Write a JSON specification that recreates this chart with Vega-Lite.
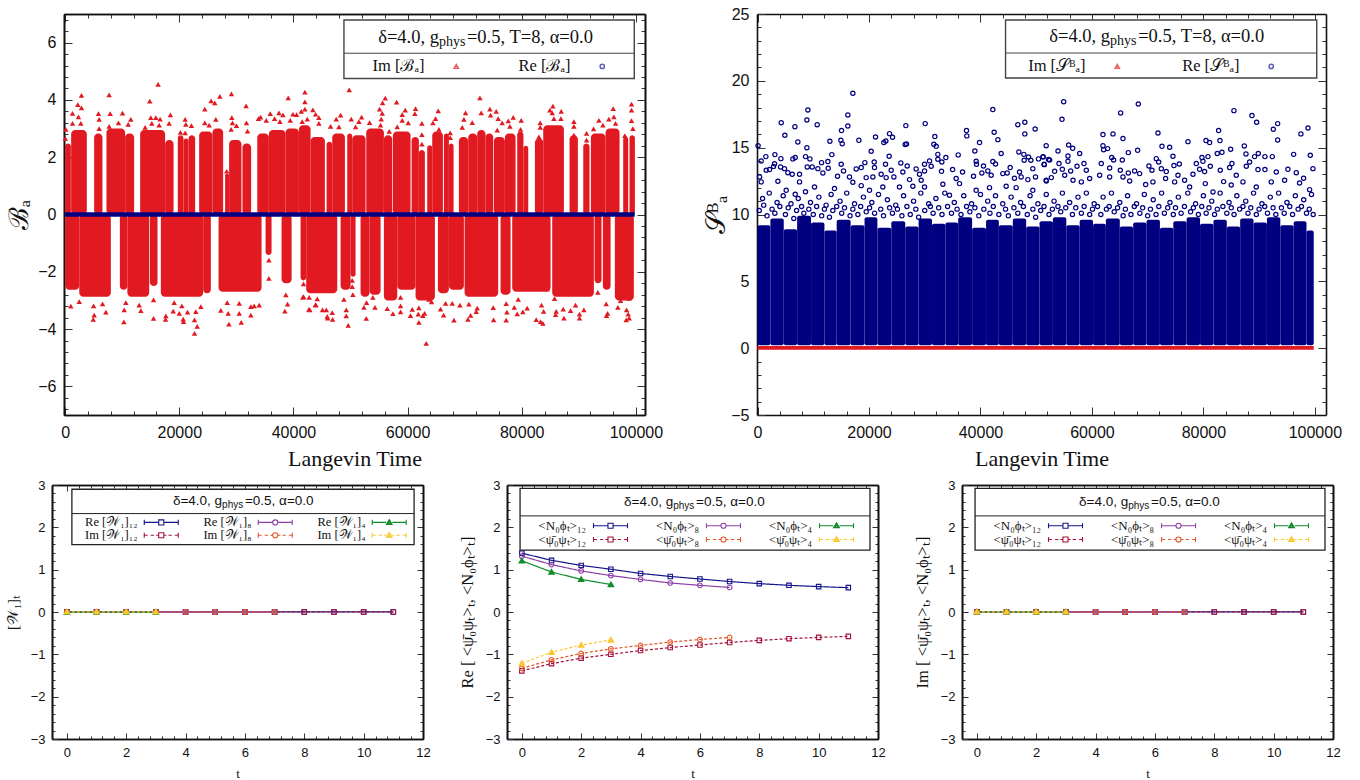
{"$schema":"https://vega.github.io/schema/vega-lite/v6.json","background":"white","padding":{"left":5,"top":6,"right":0,"bottom":0},
"config":{"view":{"stroke":null},"axis":{"grid":false,"labelFlush":false,"domainColor":"#111","domainWidth":1.6,"tickColor":"#333","tickWidth":1,"labelFont":"Liberation Sans","labelColor":"#111","titleFont":"Liberation Serif","titleColor":"#111","titleFontWeight":"normal"},"legend":{"labelFont":"Liberation Serif","labelColor":"#111"},"text":{"font":"Liberation Serif","color":"#111"}},
"datasets":{
"imUp":[{"t":0,"t2":1000,"hi":2.48},{"t":1050,"t2":3800,"hi":2.95},{"t":5080,"t2":6540,"hi":2.83},{"t":7240,"t2":10510,"hi":3.0},{"t":10510,"t2":12090,"hi":2.83},{"t":13140,"t2":17520,"hi":2.95},{"t":17520,"t2":19000,"hi":2.6},{"t":19740,"t2":20730,"hi":2.77},{"t":20730,"t2":21610,"hi":2.65},{"t":21610,"t2":22780,"hi":2.77},{"t":23480,"t2":25810,"hi":2.9},{"t":25810,"t2":27680,"hi":3.0},{"t":28030,"t2":28730,"hi":1.43},{"t":28730,"t2":30890,"hi":2.6},{"t":31070,"t2":32590,"hi":2.48},{"t":33660,"t2":35700,"hi":2.83},{"t":35700,"t2":38620,"hi":2.95},{"t":38620,"t2":40960,"hi":3.0},{"t":40960,"t2":43000,"hi":3.12},{"t":43000,"t2":45510,"hi":2.71},{"t":45810,"t2":46800,"hi":2.54},{"t":46800,"t2":49020,"hi":2.83},{"t":49430,"t2":50300,"hi":2.83},{"t":50300,"t2":52640,"hi":2.77},{"t":52760,"t2":55850,"hi":3.0},{"t":55850,"t2":57310,"hi":2.77},{"t":57430,"t2":60520,"hi":2.9},{"t":60700,"t2":61980,"hi":2.71},{"t":61980,"t2":63030,"hi":2.25},{"t":63440,"t2":64320,"hi":2.42},{"t":64320,"t2":66190,"hi":2.9},{"t":66360,"t2":67240,"hi":2.83},{"t":67240,"t2":68060,"hi":2.48},{"t":68990,"t2":70630,"hi":2.71},{"t":70630,"t2":72200,"hi":2.83},{"t":72200,"t2":73660,"hi":2.95},{"t":73660,"t2":75000,"hi":2.83},{"t":75120,"t2":77050,"hi":2.71},{"t":77050,"t2":78920,"hi":2.83},{"t":79210,"t2":80300,"hi":2.9},{"t":80300,"t2":81140,"hi":2.4},{"t":82310,"t2":83770,"hi":2.65},{"t":83770,"t2":87390,"hi":3.12},{"t":88380,"t2":89840,"hi":2.77},{"t":90780,"t2":91880,"hi":2.48},{"t":92120,"t2":94690,"hi":2.83},{"t":94690,"t2":97140,"hi":3.0},{"t":97780,"t2":98660,"hi":2.71},{"t":98890,"t2":99830,"hi":2.77}],
"imDown":[{"t":0,"t2":2470,"lo":-2.63},{"t":2470,"t2":8010,"lo":-2.87},{"t":9590,"t2":10900,"lo":-2.63},{"t":10900,"t2":14730,"lo":-2.87},{"t":14850,"t2":16190,"lo":-2.5},{"t":16770,"t2":24190,"lo":-2.87},{"t":24190,"t2":25530,"lo":-2.75},{"t":26880,"t2":34420,"lo":-2.7},{"t":35120,"t2":36170,"lo":-1.41},{"t":37920,"t2":39680,"lo":-2.4},{"t":41250,"t2":42240,"lo":-2.3},{"t":42240,"t2":47680,"lo":-2.75},{"t":48260,"t2":50010,"lo":-2.63},{"t":50010,"t2":50890,"lo":-2.17},{"t":51760,"t2":53340,"lo":-2.87},{"t":53340,"t2":55270,"lo":-2.8},{"t":55850,"t2":58190,"lo":-3.0},{"t":58190,"t2":61400,"lo":-2.63},{"t":61400,"t2":64790,"lo":-3.0},{"t":65310,"t2":67240,"lo":-2.75},{"t":67240,"t2":69870,"lo":-2.63},{"t":69985,"t2":75880,"lo":-2.87},{"t":76290,"t2":78040,"lo":-2.8},{"t":78330,"t2":85050,"lo":-2.7},{"t":85340,"t2":92640,"lo":-2.87},{"t":92760,"t2":93990,"lo":-2.4},{"t":94220,"t2":95570,"lo":-2.63},{"t":96320,"t2":99650,"lo":-3.0}],
"imPts":[{"t":16290,"v":4.54},{"t":2860,"v":4.16},{"t":7710,"v":4.18},{"t":14830,"v":3.96},{"t":2220,"v":3.84},{"t":2860,"v":3.72},{"t":1290,"v":3.53},{"t":2340,"v":3.41},{"t":5840,"v":3.52},{"t":5960,"v":3.32},{"t":7890,"v":3.52},{"t":10050,"v":3.54},{"t":11500,"v":3.32},{"t":1290,"v":3.18},{"t":2750,"v":3.18},{"t":120,"v":2.97},{"t":50,"v":2.65},{"t":5960,"v":3.0},{"t":9345,"v":3.2},{"t":7710,"v":3.08},{"t":11040,"v":3.15},{"t":15010,"v":3.38},{"t":15890,"v":3.38},{"t":16640,"v":3.33},{"t":18450,"v":3.48},{"t":15180,"v":3.18},{"t":16470,"v":3.12},{"t":18220,"v":3.18},{"t":14020,"v":3.04},{"t":21030,"v":3.32},{"t":21140,"v":3.15},{"t":22130,"v":3.1},{"t":21030,"v":2.85},{"t":20200,"v":2.87},{"t":24470,"v":3.68},{"t":25580,"v":3.97},{"t":26220,"v":3.9},{"t":27100,"v":4.12},{"t":29140,"v":4.21},{"t":31710,"v":3.79},{"t":24470,"v":3.2},{"t":25230,"v":3.12},{"t":26400,"v":3.32},{"t":29200,"v":3.38},{"t":29320,"v":3.2},{"t":30020,"v":3.1},{"t":29080,"v":2.97},{"t":31770,"v":3.2},{"t":31950,"v":2.91},{"t":28320,"v":1.51},{"t":33870,"v":3.35},{"t":39090,"v":4.07},{"t":42010,"v":4.27},{"t":42010,"v":3.93},{"t":49780,"v":4.35},{"t":56090,"v":4.06},{"t":55620,"v":3.9},{"t":58070,"v":3.92},{"t":34240,"v":3.4},{"t":35940,"v":3.52},{"t":37460,"v":3.55},{"t":38160,"v":3.48},{"t":39910,"v":3.5},{"t":40550,"v":3.49},{"t":41370,"v":3.6},{"t":42010,"v":3.68},{"t":43410,"v":3.65},{"t":43880,"v":3.5},{"t":44460,"v":3.38},{"t":36700,"v":3.35},{"t":35240,"v":3.29},{"t":37630,"v":3.24},{"t":39440,"v":3.29},{"t":41540,"v":3.24},{"t":42420,"v":3.33},{"t":44460,"v":3.18},{"t":46510,"v":3.08},{"t":47500,"v":3.33},{"t":48260,"v":3.47},{"t":47970,"v":3.06},{"t":50130,"v":3.33},{"t":51940,"v":3.4},{"t":51470,"v":3.24},{"t":50890,"v":3.06},{"t":55090,"v":3.68},{"t":55560,"v":3.53},{"t":55380,"v":3.33},{"t":53340,"v":3.21},{"t":55270,"v":3.12},{"t":56790,"v":2.9},{"t":58190,"v":3.06},{"t":59060,"v":3.49},{"t":59590,"v":3.64},{"t":59060,"v":3.29},{"t":61400,"v":3.7},{"t":61280,"v":3.52},{"t":60110,"v":3.2},{"t":62510,"v":3.18},{"t":62510,"v":2.79},{"t":62510,"v":2.46},{"t":65370,"v":3.62},{"t":64900,"v":3.35},{"t":64440,"v":3.2},{"t":65490,"v":2.97},{"t":72670,"v":4.07},{"t":70160,"v":3.55},{"t":72900,"v":3.55},{"t":74420,"v":3.68},{"t":75530,"v":3.6},{"t":74540,"v":3.47},{"t":78510,"v":3.39},{"t":79910,"v":3.29},{"t":75880,"v":3.35},{"t":77640,"v":3.27},{"t":69870,"v":3.32},{"t":71330,"v":3.21},{"t":69580,"v":3.04},{"t":76580,"v":3.2},{"t":77930,"v":3.08},{"t":75710,"v":2.95},{"t":79800,"v":2.97},{"t":85460,"v":3.78},{"t":84930,"v":3.64},{"t":86920,"v":3.6},{"t":85340,"v":3.55},{"t":85640,"v":3.35},{"t":86860,"v":3.35},{"t":83240,"v":3.2},{"t":83240,"v":3.04},{"t":89140,"v":3.24},{"t":89140,"v":3.08},{"t":83010,"v":2.71},{"t":89140,"v":2.77},{"t":91360,"v":2.83},{"t":91360,"v":2.6},{"t":92590,"v":2.99},{"t":93520,"v":3.29},{"t":95270,"v":3.33},{"t":94220,"v":3.12},{"t":96030,"v":3.7},{"t":96150,"v":3.41},{"t":96440,"v":3.18},{"t":99240,"v":3.85},{"t":99240,"v":3.64},{"t":99240,"v":3.28},{"t":99480,"v":3.0},{"t":98070,"v":2.75},{"t":67470,"v":2.85},{"t":67470,"v":2.68},{"t":1000,"v":-3.2},{"t":2470,"v":-3.04},{"t":4920,"v":-3.66},{"t":5090,"v":-3.51},{"t":7140,"v":-3.41},{"t":6550,"v":-3.12},{"t":4980,"v":-3.19},{"t":10290,"v":-3.75},{"t":10350,"v":-3.33},{"t":10640,"v":-3.08},{"t":13270,"v":-3.36},{"t":12980,"v":-3.16},{"t":15490,"v":-3.63},{"t":15490,"v":-2.98},{"t":17590,"v":-3.66},{"t":17650,"v":-3.54},{"t":19110,"v":-3.08},{"t":18930,"v":-3.37},{"t":19990,"v":-3.45},{"t":20740,"v":-3.74},{"t":20690,"v":-3.65},{"t":20450,"v":-3.19},{"t":22670,"v":-4.15},{"t":23140,"v":-3.91},{"t":22670,"v":-3.68},{"t":21440,"v":-3.41},{"t":22900,"v":-3.39},{"t":23780,"v":-3.22},{"t":28690,"v":-3.83},{"t":30850,"v":-3.77},{"t":27280,"v":-3.35},{"t":28400,"v":-3.08},{"t":28570,"v":-3.45},{"t":30500,"v":-3.45},{"t":30500,"v":-3.1},{"t":32540,"v":-3.51},{"t":32540,"v":-3.22},{"t":33120,"v":-3.19},{"t":34000,"v":-3.16},{"t":35700,"v":-1.59},{"t":35700,"v":-2.23},{"t":38500,"v":-3.37},{"t":38970,"v":-3.13},{"t":38670,"v":-2.81},{"t":41770,"v":-2.87},{"t":41770,"v":-2.42},{"t":42880,"v":-3.33},{"t":42760,"v":-2.89},{"t":43930,"v":-3.16},{"t":46000,"v":-3.62},{"t":45100,"v":-3.33},{"t":45920,"v":-3.56},{"t":46860,"v":-3.66},{"t":46800,"v":-3.43},{"t":49250,"v":-3.54},{"t":49600,"v":-3.87},{"t":49250,"v":-3.33},{"t":48840,"v":-2.96},{"t":52760,"v":-3.63},{"t":52350,"v":-3.24},{"t":54280,"v":-3.24},{"t":52810,"v":-3.08},{"t":53920,"v":-2.89},{"t":56440,"v":-3.29},{"t":57430,"v":-3.46},{"t":58770,"v":-3.4},{"t":58770,"v":-3.19},{"t":58770,"v":-2.89},{"t":60520,"v":-3.53},{"t":60820,"v":-3.31},{"t":61980,"v":-3.77},{"t":61870,"v":-3.48},{"t":62680,"v":-3.53},{"t":61980,"v":-3.26},{"t":63270,"v":-4.5},{"t":62980,"v":-3.45},{"t":63740,"v":-2.96},{"t":64200,"v":-3.05},{"t":65780,"v":-3.3},{"t":66310,"v":-3.51},{"t":66660,"v":-3.1},{"t":50300,"v":-2.3},{"t":50300,"v":-2.52},{"t":50420,"v":-2.8},{"t":41660,"v":-2.89},{"t":42710,"v":-3.31},{"t":43880,"v":-3.15},{"t":44170,"v":-2.95},{"t":45750,"v":-3.33},{"t":68120,"v":-3.69},{"t":67820,"v":-3.1},{"t":70570,"v":-3.66},{"t":71040,"v":-3.52},{"t":70740,"v":-3.13},{"t":69170,"v":-3.16},{"t":72200,"v":-3.27},{"t":72030,"v":-3.39},{"t":75010,"v":-3.25},{"t":75070,"v":-3.68},{"t":77280,"v":-3.69},{"t":77400,"v":-3.41},{"t":77280,"v":-3.11},{"t":78690,"v":-3.24},{"t":79210,"v":-3.47},{"t":79390,"v":-2.96},{"t":80200,"v":-3.4},{"t":80960,"v":-3.27},{"t":82540,"v":-3.67},{"t":83300,"v":-3.74},{"t":83710,"v":-3.8},{"t":83830,"v":-3.38},{"t":83470,"v":-3.16},{"t":84470,"v":-2.6},{"t":85750,"v":-2.94},{"t":86040,"v":-3.38},{"t":85930,"v":-3.5},{"t":87390,"v":-3.62},{"t":87270,"v":-3.3},{"t":88560,"v":-3.36},{"t":90130,"v":-3.62},{"t":90130,"v":-3.48},{"t":90890,"v":-3.33},{"t":89430,"v":-3.16},{"t":93340,"v":-2.72},{"t":94860,"v":-3.53},{"t":95040,"v":-3.45},{"t":94800,"v":-3.12},{"t":96850,"v":-3.24},{"t":98370,"v":-3.33},{"t":98310,"v":-3.68},{"t":98830,"v":-3.62},{"t":98660,"v":-3.48},{"t":97320,"v":-3.01},{"t":98780,"v":-2.93}],
"sBand":[{"t":0,"t2":2300,"hi":9.2},{"t":2300,"t2":4700,"hi":9.7},{"t":4700,"t2":7100,"hi":8.9},{"t":7100,"t2":9600,"hi":9.9},{"t":9600,"t2":12000,"hi":9.4},{"t":12000,"t2":14200,"hi":8.8},{"t":14200,"t2":16700,"hi":9.6},{"t":16700,"t2":19200,"hi":9.2},{"t":19200,"t2":21500,"hi":9.8},{"t":21500,"t2":24000,"hi":9.0},{"t":24000,"t2":26500,"hi":9.5},{"t":26500,"t2":28900,"hi":9.1},{"t":28900,"t2":31300,"hi":9.7},{"t":31300,"t2":33700,"hi":9.3},{"t":33700,"t2":36000,"hi":9.4},{"t":36000,"t2":38500,"hi":9.8},{"t":38500,"t2":41000,"hi":9.0},{"t":41000,"t2":43300,"hi":9.6},{"t":43300,"t2":45800,"hi":9.2},{"t":45800,"t2":48200,"hi":9.7},{"t":48200,"t2":50600,"hi":9.1},{"t":50600,"t2":53000,"hi":9.5},{"t":53000,"t2":55400,"hi":9.8},{"t":55400,"t2":57800,"hi":9.2},{"t":57800,"t2":60200,"hi":9.6},{"t":60200,"t2":62500,"hi":9.3},{"t":62500,"t2":65000,"hi":9.7},{"t":65000,"t2":67400,"hi":9.1},{"t":67400,"t2":69800,"hi":9.4},{"t":69800,"t2":72200,"hi":9.6},{"t":72200,"t2":74600,"hi":9.0},{"t":74600,"t2":77000,"hi":9.5},{"t":77000,"t2":79400,"hi":9.8},{"t":79400,"t2":81800,"hi":9.3},{"t":81800,"t2":84200,"hi":9.6},{"t":84200,"t2":86600,"hi":9.1},{"t":86600,"t2":89000,"hi":9.7},{"t":89000,"t2":91400,"hi":9.4},{"t":91400,"t2":93800,"hi":9.8},{"t":93800,"t2":96200,"hi":9.2},{"t":96200,"t2":98500,"hi":9.5},{"t":98500,"t2":99800,"hi":8.8}],
"sPts":[{"t":17100,"v":19.07},{"t":9030,"v":17.82},{"t":42220,"v":17.85},{"t":16200,"v":17.45},{"t":8850,"v":17.07},{"t":4245,"v":16.87},{"t":10700,"v":16.72},{"t":6700,"v":16.57},{"t":16200,"v":16.62},{"t":46700,"v":16.72},{"t":47960,"v":16.9},{"t":49810,"v":16.4},{"t":30080,"v":16.8},{"t":26610,"v":16.65},{"t":15070,"v":16.28},{"t":37490,"v":16.28},{"t":37550,"v":15.88},{"t":42460,"v":16.15},{"t":43120,"v":15.6},{"t":47960,"v":16.03},{"t":4900,"v":15.93},{"t":23680,"v":16.05},{"t":24220,"v":15.78},{"t":21170,"v":15.8},{"t":31810,"v":15.83},{"t":100,"v":15.15},{"t":7230,"v":15.43},{"t":12980,"v":15.48},{"t":14950,"v":15.55},{"t":15190,"v":15.3},{"t":18180,"v":15.55},{"t":22660,"v":15.38},{"t":23020,"v":15.5},{"t":26490,"v":15.23},{"t":26730,"v":15.28},{"t":31630,"v":15.25},{"t":32050,"v":15.1},{"t":39830,"v":15.38},{"t":51790,"v":15.15},{"t":8850,"v":15.0},{"t":20390,"v":14.73},{"t":13330,"v":14.48},{"t":3110,"v":14.48},{"t":1490,"v":14.33},{"t":660,"v":14.0},{"t":4190,"v":14.18},{"t":6340,"v":14.16},{"t":6760,"v":14.26},{"t":8610,"v":14.33},{"t":9390,"v":14.16},{"t":11480,"v":13.88},{"t":12620,"v":13.96},{"t":15010,"v":13.76},{"t":19250,"v":13.88},{"t":20930,"v":13.93},{"t":22960,"v":13.76},{"t":23620,"v":14.36},{"t":25710,"v":13.86},{"t":26850,"v":13.63},{"t":29960,"v":13.76},{"t":30860,"v":14.01},{"t":31150,"v":13.61},{"t":32350,"v":14.5},{"t":32350,"v":14.13},{"t":33070,"v":13.93},{"t":33790,"v":14.26},{"t":36000,"v":14.46},{"t":38990,"v":14.75},{"t":39230,"v":13.98},{"t":39290,"v":13.76},{"t":40540,"v":13.63},{"t":42220,"v":13.96},{"t":42700,"v":13.78},{"t":43710,"v":14.56},{"t":46880,"v":14.68},{"t":47780,"v":14.5},{"t":47840,"v":14.06},{"t":48620,"v":14.3},{"t":49040,"v":14.06},{"t":50410,"v":14.16},{"t":51250,"v":14.33},{"t":51420,"v":13.76},{"t":52200,"v":14.11},{"t":3050,"v":13.8},{"t":2870,"v":13.6},{"t":1550,"v":13.31},{"t":2150,"v":13.36},{"t":4130,"v":13.56},{"t":4840,"v":13.43},{"t":5440,"v":13.13},{"t":6220,"v":13.01},{"t":7530,"v":13.01},{"t":8910,"v":13.56},{"t":9810,"v":13.56},{"t":10820,"v":13.43},{"t":11720,"v":13.11},{"t":12680,"v":13.46},{"t":14350,"v":12.86},{"t":15430,"v":13.26},{"t":16500,"v":12.81},{"t":17700,"v":13.41},{"t":18600,"v":13.51},{"t":19490,"v":12.76},{"t":20690,"v":12.81},{"t":20990,"v":13.51},{"t":22180,"v":13.01},{"t":23080,"v":12.76},{"t":23980,"v":13.31},{"t":24460,"v":12.81},{"t":26070,"v":13.18},{"t":27270,"v":12.61},{"t":28460,"v":13.41},{"t":29060,"v":13.01},{"t":29960,"v":13.26},{"t":29360,"v":12.56},{"t":33010,"v":13.23},{"t":35000,"v":13.36},{"t":35640,"v":12.69},{"t":36780,"v":13.18},{"t":38750,"v":12.86},{"t":40250,"v":13.11},{"t":41320,"v":13.26},{"t":41920,"v":12.94},{"t":44010,"v":13.06},{"t":44790,"v":13.11},{"t":45330,"v":13.51},{"t":46100,"v":12.71},{"t":47000,"v":13.18},{"t":47300,"v":12.81},{"t":49390,"v":13.43},{"t":49870,"v":12.81},{"t":48500,"v":12.61},{"t":51790,"v":12.56},{"t":360,"v":12.81},{"t":660,"v":12.44},{"t":3650,"v":12.49},{"t":7530,"v":12.44},{"t":5140,"v":11.81},{"t":6760,"v":11.51},{"t":10220,"v":12.06},{"t":13810,"v":11.94},{"t":17100,"v":12.41},{"t":18600,"v":12.16},{"t":20090,"v":11.81},{"t":22480,"v":12.06},{"t":25470,"v":12.06},{"t":27870,"v":12.11},{"t":29960,"v":12.06},{"t":33250,"v":12.26},{"t":34440,"v":11.44},{"t":36240,"v":12.31},{"t":39230,"v":11.81},{"t":41620,"v":12.01},{"t":44610,"v":12.11},{"t":46400,"v":12.01},{"t":49390,"v":11.81},{"t":54930,"v":18.44},{"t":68320,"v":18.27},{"t":65150,"v":17.6},{"t":54630,"v":17.12},{"t":85480,"v":17.77},{"t":88710,"v":17.4},{"t":89550,"v":16.9},{"t":93320,"v":16.8},{"t":92540,"v":16.38},{"t":98760,"v":16.47},{"t":97500,"v":16.03},{"t":82730,"v":16.28},{"t":61980,"v":15.98},{"t":63780,"v":16.03},{"t":71850,"v":16.1},{"t":65570,"v":15.68},{"t":93320,"v":15.58},{"t":82970,"v":15.53},{"t":77230,"v":15.45},{"t":80460,"v":15.53},{"t":81120,"v":15.38},{"t":55820,"v":15.2},{"t":56540,"v":14.95},{"t":61980,"v":15.15},{"t":62100,"v":14.85},{"t":62820,"v":14.93},{"t":68200,"v":14.8},{"t":72570,"v":15.1},{"t":73940,"v":15.03},{"t":84890,"v":14.88},{"t":87340,"v":15.13},{"t":53910,"v":14.75},{"t":57800,"v":14.56},{"t":66530,"v":14.63},{"t":82490,"v":14.56},{"t":83330,"v":14.65},{"t":87640,"v":14.53},{"t":89850,"v":14.56},{"t":96190,"v":14.5},{"t":99180,"v":14.43},{"t":51220,"v":14.3},{"t":52410,"v":14.08},{"t":55700,"v":14.38},{"t":55700,"v":13.98},{"t":63540,"v":14.26},{"t":63890,"v":14.08},{"t":65450,"v":14.08},{"t":71550,"v":14.18},{"t":71970,"v":13.93},{"t":74540,"v":14.36},{"t":74720,"v":13.66},{"t":75680,"v":13.78},{"t":78730,"v":13.81},{"t":79740,"v":14.26},{"t":80820,"v":14.33},{"t":79920,"v":13.98},{"t":85120,"v":13.81},{"t":89190,"v":14.33},{"t":91040,"v":14.33},{"t":92360,"v":14.33},{"t":51460,"v":13.73},{"t":54090,"v":13.81},{"t":58570,"v":13.81},{"t":61680,"v":13.81},{"t":57320,"v":13.61},{"t":54690,"v":13.38},{"t":53310,"v":13.23},{"t":56180,"v":13.26},{"t":58990,"v":13.31},{"t":63180,"v":13.48},{"t":65090,"v":13.31},{"t":66530,"v":13.11},{"t":67660,"v":13.26},{"t":68560,"v":13.06},{"t":70230,"v":13.63},{"t":70770,"v":13.31},{"t":72450,"v":13.43},{"t":73340,"v":13.21},{"t":75440,"v":12.94},{"t":76630,"v":12.56},{"t":78130,"v":13.01},{"t":79320,"v":13.38},{"t":80220,"v":13.21},{"t":81240,"v":13.61},{"t":83030,"v":13.31},{"t":84710,"v":13.51},{"t":85900,"v":12.94},{"t":87700,"v":13.61},{"t":88290,"v":13.93},{"t":89790,"v":13.36},{"t":91040,"v":13.36},{"t":93080,"v":13.18},{"t":95170,"v":13.38},{"t":96670,"v":13.13},{"t":97980,"v":12.71},{"t":99660,"v":13.43},{"t":51820,"v":12.51},{"t":52710,"v":12.76},{"t":55110,"v":12.94},{"t":56600,"v":12.56},{"t":58100,"v":12.44},{"t":59590,"v":12.69},{"t":61380,"v":12.94},{"t":63180,"v":12.81},{"t":65570,"v":12.81},{"t":66770,"v":12.51},{"t":69640,"v":12.24},{"t":70950,"v":12.44},{"t":73220,"v":12.69},{"t":74840,"v":12.44},{"t":77530,"v":12.06},{"t":80340,"v":12.31},{"t":81720,"v":11.69},{"t":83630,"v":12.46},{"t":85000,"v":12.21},{"t":87100,"v":12.44},{"t":89490,"v":12.06},{"t":92180,"v":12.44},{"t":94570,"v":12.56},{"t":97260,"v":12.36},{"t":99060,"v":11.86},{"t":900,"v":11.2},{"t":2100,"v":11.6},{"t":3500,"v":10.9},{"t":4600,"v":11.4},{"t":6000,"v":10.8},{"t":7300,"v":11.2},{"t":8600,"v":11.7},{"t":9500,"v":10.9},{"t":11000,"v":11.3},{"t":12300,"v":10.7},{"t":13200,"v":11.5},{"t":14800,"v":11.0},{"t":16000,"v":11.6},{"t":17400,"v":10.8},{"t":19000,"v":11.3},{"t":20500,"v":10.9},{"t":21700,"v":11.5},{"t":23300,"v":11.1},{"t":24800,"v":10.7},{"t":26200,"v":11.4},{"t":28000,"v":11.0},{"t":29300,"v":11.6},{"t":30700,"v":10.8},{"t":32000,"v":11.2},{"t":33600,"v":11.6},{"t":35300,"v":10.9},{"t":37000,"v":11.4},{"t":38400,"v":10.8},{"t":40000,"v":11.5},{"t":41300,"v":11.0},{"t":42700,"v":11.4},{"t":44000,"v":10.8},{"t":45500,"v":11.3},{"t":47200,"v":10.9},{"t":48900,"v":11.4},{"t":50300,"v":10.8},{"t":51800,"v":11.5},{"t":53200,"v":11.0},{"t":54700,"v":11.6},{"t":56000,"v":10.9},{"t":57500,"v":11.3},{"t":59000,"v":11.6},{"t":60400,"v":10.8},{"t":62000,"v":11.3},{"t":63500,"v":11.6},{"t":65000,"v":10.9},{"t":66400,"v":11.4},{"t":68000,"v":10.8},{"t":69400,"v":11.5},{"t":71000,"v":11.1},{"t":72500,"v":11.6},{"t":74000,"v":10.9},{"t":75500,"v":11.3},{"t":77200,"v":11.6},{"t":78600,"v":10.8},{"t":80000,"v":11.4},{"t":81500,"v":11.0},{"t":83000,"v":11.6},{"t":84600,"v":10.9},{"t":86000,"v":11.4},{"t":87600,"v":11.0},{"t":89000,"v":11.6},{"t":90500,"v":10.8},{"t":92000,"v":11.3},{"t":93500,"v":11.6},{"t":95000,"v":10.9},{"t":96500,"v":11.4},{"t":98000,"v":11.1},{"t":99400,"v":11.5},{"t":300,"v":10.3},{"t":1100,"v":10.7},{"t":1700,"v":9.9},{"t":2600,"v":10.4},{"t":3100,"v":10.1},{"t":4000,"v":10.6},{"t":5000,"v":10.0},{"t":5500,"v":10.5},{"t":6500,"v":9.7},{"t":7000,"v":10.3},{"t":7900,"v":10.6},{"t":8300,"v":10.1},{"t":9200,"v":10.4},{"t":10000,"v":10.0},{"t":10600,"v":10.6},{"t":11500,"v":9.9},{"t":12000,"v":10.4},{"t":12900,"v":9.8},{"t":13500,"v":10.3},{"t":14200,"v":10.6},{"t":15100,"v":10.1},{"t":15600,"v":10.5},{"t":16600,"v":9.9},{"t":17100,"v":10.4},{"t":18000,"v":10.0},{"t":18500,"v":10.6},{"t":19500,"v":10.2},{"t":20100,"v":10.5},{"t":21000,"v":10.1},{"t":22100,"v":10.4},{"t":22600,"v":9.9},{"t":23700,"v":10.5},{"t":24200,"v":10.1},{"t":25100,"v":10.4},{"t":25900,"v":9.9},{"t":26800,"v":10.6},{"t":27400,"v":10.0},{"t":28400,"v":10.4},{"t":28900,"v":9.8},{"t":30000,"v":10.3},{"t":31000,"v":10.6},{"t":31500,"v":10.1},{"t":32500,"v":10.5},{"t":33100,"v":10.0},{"t":34100,"v":10.6},{"t":34800,"v":10.1},{"t":35800,"v":10.4},{"t":36500,"v":10.0},{"t":37500,"v":10.6},{"t":38100,"v":10.2},{"t":39000,"v":10.5},{"t":39700,"v":9.9},{"t":40600,"v":10.4},{"t":41700,"v":10.1},{"t":42300,"v":10.6},{"t":43300,"v":10.0},{"t":44500,"v":10.4},{"t":45000,"v":9.9},{"t":46000,"v":10.5},{"t":46700,"v":10.1},{"t":47700,"v":10.6},{"t":48400,"v":10.0},{"t":49400,"v":10.4},{"t":49900,"v":9.8},{"t":50800,"v":10.3},{"t":51400,"v":10.6},{"t":52300,"v":10.0},{"t":52900,"v":10.4},{"t":53900,"v":10.6},{"t":54400,"v":10.2},{"t":55300,"v":10.5},{"t":56500,"v":10.0},{"t":57100,"v":10.5},{"t":58100,"v":10.1},{"t":58600,"v":10.6},{"t":59600,"v":10.0},{"t":60100,"v":10.4},{"t":61000,"v":10.6},{"t":61600,"v":10.0},{"t":62600,"v":10.4},{"t":63100,"v":10.6},{"t":64000,"v":10.2},{"t":64600,"v":10.5},{"t":65600,"v":9.9},{"t":66000,"v":10.4},{"t":67000,"v":10.0},{"t":67600,"v":10.6},{"t":68600,"v":10.1},{"t":69100,"v":10.5},{"t":70000,"v":9.9},{"t":70500,"v":10.4},{"t":71500,"v":10.0},{"t":72000,"v":10.6},{"t":73000,"v":10.1},{"t":73600,"v":10.5},{"t":74600,"v":10.0},{"t":75000,"v":10.5},{"t":76000,"v":10.1},{"t":76600,"v":10.6},{"t":77700,"v":10.2},{"t":78200,"v":10.5},{"t":79100,"v":10.0},{"t":79700,"v":10.6},{"t":80500,"v":10.1},{"t":81000,"v":10.5},{"t":82000,"v":10.0},{"t":82500,"v":10.4},{"t":83500,"v":10.6},{"t":84200,"v":10.1},{"t":85000,"v":10.5},{"t":85500,"v":10.0},{"t":86500,"v":10.4},{"t":87100,"v":10.6},{"t":88000,"v":10.1},{"t":88500,"v":10.5},{"t":89500,"v":10.0},{"t":90000,"v":10.4},{"t":91000,"v":10.6},{"t":91500,"v":10.1},{"t":92500,"v":10.5},{"t":93000,"v":10.0},{"t":94000,"v":10.5},{"t":94500,"v":10.1},{"t":95500,"v":10.6},{"t":96000,"v":10.0},{"t":97000,"v":10.4},{"t":97600,"v":10.6},{"t":98500,"v":10.1},{"t":99000,"v":10.4},{"t":99700,"v":10.0}],
"wilson":[{"s":"Re12","T":12,"t":0,"v":0.004},{"s":"Re12","T":12,"t":1,"v":0.003},{"s":"Re12","T":12,"t":2,"v":0.002},{"s":"Re12","T":12,"t":3,"v":0.002},{"s":"Re12","T":12,"t":4,"v":0.002},{"s":"Re12","T":12,"t":5,"v":0.001},{"s":"Re12","T":12,"t":6,"v":0.001},{"s":"Re12","T":12,"t":7,"v":0.001},{"s":"Re12","T":12,"t":8,"v":0.001},{"s":"Re12","T":12,"t":9,"v":0.001},{"s":"Re12","T":12,"t":10,"v":0.001},{"s":"Re12","T":12,"t":11,"v":0.001},{"s":"Im12","T":12,"t":0,"v":0.002},{"s":"Im12","T":12,"t":1,"v":0.001},{"s":"Im12","T":12,"t":2,"v":0.001},{"s":"Im12","T":12,"t":3,"v":0.001},{"s":"Im12","T":12,"t":4,"v":0.001},{"s":"Im12","T":12,"t":5,"v":0.001},{"s":"Im12","T":12,"t":6,"v":0.001},{"s":"Im12","T":12,"t":7,"v":0.001},{"s":"Im12","T":12,"t":8,"v":0.001},{"s":"Im12","T":12,"t":9,"v":0.001},{"s":"Im12","T":12,"t":10,"v":0.001},{"s":"Im12","T":12,"t":11,"v":0.001},{"s":"Re8","T":8,"t":0,"v":0.003},{"s":"Re8","T":8,"t":1,"v":0.002},{"s":"Re8","T":8,"t":2,"v":0.002},{"s":"Re8","T":8,"t":3,"v":0.002},{"s":"Re8","T":8,"t":4,"v":0.001},{"s":"Re8","T":8,"t":5,"v":0.001},{"s":"Re8","T":8,"t":6,"v":0.001},{"s":"Re8","T":8,"t":7,"v":0.001},{"s":"Im8","T":8,"t":0,"v":0.002},{"s":"Im8","T":8,"t":1,"v":0.002},{"s":"Im8","T":8,"t":2,"v":0.001},{"s":"Im8","T":8,"t":3,"v":0.001},{"s":"Im8","T":8,"t":4,"v":0.001},{"s":"Im8","T":8,"t":5,"v":0.001},{"s":"Im8","T":8,"t":6,"v":0.001},{"s":"Im8","T":8,"t":7,"v":0.001},{"s":"Re4","T":4,"t":0,"v":-0.005},{"s":"Re4","T":4,"t":1,"v":-0.005},{"s":"Re4","T":4,"t":2,"v":-0.005},{"s":"Re4","T":4,"t":3,"v":-0.005},{"s":"Im4","T":4,"t":0,"v":0.003},{"s":"Im4","T":4,"t":1,"v":0.003},{"s":"Im4","T":4,"t":2,"v":0.003},{"s":"Im4","T":4,"t":3,"v":0.003}],
"corrRe":[{"s":"Re12","T":12,"t":0,"v":1.39},{"s":"Re12","T":12,"t":1,"v":1.22},{"s":"Re12","T":12,"t":2,"v":1.1},{"s":"Re12","T":12,"t":3,"v":1.01},{"s":"Re12","T":12,"t":4,"v":0.91},{"s":"Re12","T":12,"t":5,"v":0.84},{"s":"Re12","T":12,"t":6,"v":0.78},{"s":"Re12","T":12,"t":7,"v":0.72},{"s":"Re12","T":12,"t":8,"v":0.67},{"s":"Re12","T":12,"t":9,"v":0.63},{"s":"Re12","T":12,"t":10,"v":0.6},{"s":"Re12","T":12,"t":11,"v":0.575},{"s":"Im12","T":12,"t":0,"v":-1.39},{"s":"Im12","T":12,"t":1,"v":-1.22},{"s":"Im12","T":12,"t":2,"v":-1.09},{"s":"Im12","T":12,"t":3,"v":-1.0},{"s":"Im12","T":12,"t":4,"v":-0.91},{"s":"Im12","T":12,"t":5,"v":-0.84},{"s":"Im12","T":12,"t":6,"v":-0.78},{"s":"Im12","T":12,"t":7,"v":-0.72},{"s":"Im12","T":12,"t":8,"v":-0.67},{"s":"Im12","T":12,"t":9,"v":-0.63},{"s":"Im12","T":12,"t":10,"v":-0.6},{"s":"Im12","T":12,"t":11,"v":-0.575},{"s":"Re8","T":8,"t":0,"v":1.32},{"s":"Re8","T":8,"t":1,"v":1.12},{"s":"Re8","T":8,"t":2,"v":0.97},{"s":"Re8","T":8,"t":3,"v":0.86},{"s":"Re8","T":8,"t":4,"v":0.77},{"s":"Re8","T":8,"t":5,"v":0.685},{"s":"Re8","T":8,"t":6,"v":0.63},{"s":"Re8","T":8,"t":7,"v":0.58},{"s":"Im8","T":8,"t":0,"v":-1.33},{"s":"Im8","T":8,"t":1,"v":-1.13},{"s":"Im8","T":8,"t":2,"v":-0.98},{"s":"Im8","T":8,"t":3,"v":-0.87},{"s":"Im8","T":8,"t":4,"v":-0.79},{"s":"Im8","T":8,"t":5,"v":-0.71},{"s":"Im8","T":8,"t":6,"v":-0.65},{"s":"Im8","T":8,"t":7,"v":-0.6},{"s":"Re4","T":4,"t":0,"v":1.21},{"s":"Re4","T":4,"t":1,"v":0.945},{"s":"Re4","T":4,"t":2,"v":0.77},{"s":"Re4","T":4,"t":3,"v":0.65},{"s":"Im4","T":4,"t":0,"v":-1.21},{"s":"Im4","T":4,"t":1,"v":-0.95},{"s":"Im4","T":4,"t":2,"v":-0.78},{"s":"Im4","T":4,"t":3,"v":-0.66}],
"corrIm":[{"s":"Re12","T":12,"t":0,"v":0.003},{"s":"Re12","T":12,"t":1,"v":0.002},{"s":"Re12","T":12,"t":2,"v":0.002},{"s":"Re12","T":12,"t":3,"v":0.001},{"s":"Re12","T":12,"t":4,"v":0.001},{"s":"Re12","T":12,"t":5,"v":0.001},{"s":"Re12","T":12,"t":6,"v":0.001},{"s":"Re12","T":12,"t":7,"v":0.001},{"s":"Re12","T":12,"t":8,"v":0.001},{"s":"Re12","T":12,"t":9,"v":0.001},{"s":"Re12","T":12,"t":10,"v":0.001},{"s":"Re12","T":12,"t":11,"v":0.001},{"s":"Im12","T":12,"t":0,"v":0.003},{"s":"Im12","T":12,"t":1,"v":0.002},{"s":"Im12","T":12,"t":2,"v":0.002},{"s":"Im12","T":12,"t":3,"v":0.001},{"s":"Im12","T":12,"t":4,"v":0.001},{"s":"Im12","T":12,"t":5,"v":0.001},{"s":"Im12","T":12,"t":6,"v":0.001},{"s":"Im12","T":12,"t":7,"v":0.001},{"s":"Im12","T":12,"t":8,"v":0.001},{"s":"Im12","T":12,"t":9,"v":0.001},{"s":"Im12","T":12,"t":10,"v":0.001},{"s":"Im12","T":12,"t":11,"v":0.001},{"s":"Re8","T":8,"t":0,"v":0.002},{"s":"Re8","T":8,"t":1,"v":0.002},{"s":"Re8","T":8,"t":2,"v":0.001},{"s":"Re8","T":8,"t":3,"v":0.001},{"s":"Re8","T":8,"t":4,"v":0.001},{"s":"Re8","T":8,"t":5,"v":0.001},{"s":"Re8","T":8,"t":6,"v":0.001},{"s":"Re8","T":8,"t":7,"v":0.001},{"s":"Im8","T":8,"t":0,"v":0.002},{"s":"Im8","T":8,"t":1,"v":0.002},{"s":"Im8","T":8,"t":2,"v":0.001},{"s":"Im8","T":8,"t":3,"v":0.001},{"s":"Im8","T":8,"t":4,"v":0.001},{"s":"Im8","T":8,"t":5,"v":0.001},{"s":"Im8","T":8,"t":6,"v":0.001},{"s":"Im8","T":8,"t":7,"v":0.001},{"s":"Re4","T":4,"t":0,"v":0.003},{"s":"Re4","T":4,"t":1,"v":0.003},{"s":"Re4","T":4,"t":2,"v":0.003},{"s":"Re4","T":4,"t":3,"v":0.003},{"s":"Im4","T":4,"t":0,"v":0.003},{"s":"Im4","T":4,"t":1,"v":0.003},{"s":"Im4","T":4,"t":2,"v":0.003},{"s":"Im4","T":4,"t":3,"v":0.003}]
},
"spacing":10,
"resolve":{"scale":{"color":"independent","shape":"independent","strokeDash":"independent"}},
"vconcat":[
{"bounds":"flush","spacing":0,"resolve":{"scale":{"color":"independent","shape":"independent","strokeDash":"independent"}},"hconcat":[
{"width":12,"height":10,"data":{"values":[]},"mark":"rect","encoding":{}},
{"bounds":"flush","spacing":112,"resolve":{"scale":{"color":"independent","shape":"independent","strokeDash":"independent"}},"hconcat":[
{"width":581,"height":401,"resolve":{"axis":{"x":"independent","y":"independent"}},
"layer":[
{"data":{"name":"imPts"},"mark":{"type":"point","opacity":0},"encoding":{"x":{"field":"t","type":"quantitative","title":"Langevin Time","scale":{"domain":[-200,101600],"nice":false,"zero":false},"axis":{"orient":"bottom","format":"d","values":[0,20000,40000,60000,80000,100000],"tickSize":-8,"labelFontSize":16,"labelPadding":17,"titleFontSize":22,"titlePadding":8}},"y":{"field":"v","type":"quantitative","title":"ℬₐ","scale":{"domain":[-7,7],"nice":false,"zero":false},"axis":{"orient":"left","format":"d","values":[-6,-4,-2,0,2,4,6],"tickSize":-8,"labelFontSize":16,"labelPadding":16,"titleFontSize":27,"titlePadding":4}}}},
{"data":{"name":"imPts"},"mark":{"type":"point","opacity":0},"encoding":{"x":{"field":"t","type":"quantitative","scale":{"domain":[-200,101600],"nice":false,"zero":false},"axis":{"orient":"bottom","title":null,"labels":false,"values":[0,4000,8000,12000,16000,20000,24000,28000,32000,36000,40000,44000,48000,52000,56000,60000,64000,68000,72000,76000,80000,84000,88000,92000,96000,100000],"tickSize":-4}},"y":{"field":"v","type":"quantitative","scale":{"domain":[-7,7],"nice":false,"zero":false},"axis":{"orient":"left","title":null,"labels":false,"values":[-6.8,-6.4,-6,-5.6,-5.2,-4.8,-4.4,-4,-3.6,-3.2,-2.8,-2.4,-2,-1.6,-1.2,-0.8,-0.4,0,0.4,0.8,1.2,1.6,2,2.4,2.8,3.2,3.6,4,4.4,4.8,5.2,5.6,6,6.4,6.8],"tickSize":-4}}}},
{"data":{"name":"imPts"},"mark":{"type":"point","opacity":0},"encoding":{"x":{"field":"t","type":"quantitative","scale":{"domain":[-200,101600],"nice":false,"zero":false},"axis":{"orient":"top","title":null,"labels":false,"values":[0,20000,40000,60000,80000,100000],"tickSize":-8}},"y":{"field":"v","type":"quantitative","scale":{"domain":[-7,7],"nice":false,"zero":false},"axis":{"orient":"right","title":null,"labels":false,"values":[-6,-4,-2,0,2,4,6],"tickSize":-8}}}},
{"data":{"name":"imPts"},"mark":{"type":"point","opacity":0},"encoding":{"x":{"field":"t","type":"quantitative","scale":{"domain":[-200,101600],"nice":false,"zero":false},"axis":{"orient":"top","title":null,"labels":false,"values":[0,4000,8000,12000,16000,20000,24000,28000,32000,36000,40000,44000,48000,52000,56000,60000,64000,68000,72000,76000,80000,84000,88000,92000,96000,100000],"tickSize":-4}},"y":{"field":"v","type":"quantitative","scale":{"domain":[-7,7],"nice":false,"zero":false},"axis":{"orient":"right","title":null,"labels":false,"values":[-6.8,-6.4,-6,-5.6,-5.2,-4.8,-4.4,-4,-3.6,-3.2,-2.8,-2.4,-2,-1.6,-1.2,-0.8,-0.4,0,0.4,0.8,1.2,1.6,2,2.4,2.8,3.2,3.6,4,4.4,4.8,5.2,5.6,6,6.4,6.8],"tickSize":-4}}}},
{"data":{"name":"imUp"},"mark":{"type":"rect","color":"#e11a22","cornerRadius":4},"encoding":{"x":{"field":"t","type":"quantitative","axis":null},"x2":{"field":"t2"},"y":{"field":"hi","type":"quantitative","axis":null},"y2":{"datum":0}}},
{"data":{"name":"imDown"},"mark":{"type":"rect","color":"#e11a22","cornerRadius":4},"encoding":{"x":{"field":"t","type":"quantitative","axis":null},"x2":{"field":"t2"},"y":{"field":"lo","type":"quantitative","axis":null},"y2":{"datum":0}}},
{"data":{"name":"imPts"},"mark":{"type":"point","size":30,"filled":true,"shape":"triangle-up","color":"#e11a22","opacity":1},"encoding":{"x":{"field":"t","type":"quantitative","axis":null},"y":{"field":"v","type":"quantitative","axis":null}}},
{"data":{"values":[{"t":0,"t2":99800,"lo":-0.08,"hi":0.08}]},"mark":{"type":"rect","color":"#000080"},"encoding":{"x":{"field":"t","type":"quantitative","axis":null},"x2":{"field":"t2"},"y":{"field":"lo","type":"quantitative","axis":null},"y2":{"field":"hi"}}},
{"data":{"values":[{}]},"mark":{"type":"rect","fill":"white","stroke":"#444","strokeWidth":1.4},"encoding":{"x":{"datum":48850,"axis":null},"x2":{"datum":99720},"y":{"datum":6.79,"axis":null},"y2":{"datum":4.75}}},
{"data":{"values":[{}]},"mark":{"type":"rule","stroke":"#444","strokeWidth":1},"encoding":{"x":{"datum":48850,"axis":null},"x2":{"datum":99720},"y":{"datum":5.63,"axis":null}}},
{"data":{"values":[{}]},"mark":{"type":"text","fontSize":18.5,"align":"right"},"encoding":{"x":{"datum":65500,"axis":null},"y":{"datum":6.2,"axis":null},"text":{"value":"δ=4.0, g"}}},
{"data":{"values":[{}]},"mark":{"type":"text","fontSize":14,"align":"left","dy":5},"encoding":{"x":{"datum":65500,"axis":null},"y":{"datum":6.2,"axis":null},"text":{"value":"phys"}}},
{"data":{"values":[{}]},"mark":{"type":"text","fontSize":18.5,"align":"left"},"encoding":{"x":{"datum":70400,"axis":null},"y":{"datum":6.2,"axis":null},"text":{"value":"=0.5, T=8, α=0.0"}}},
{"data":{"values":[{"s":"Im","t":0,"v":0}]},"transform":[{"filter":"datum.t<0"}],"mark":{"type":"point","filled":false,"strokeWidth":1},"encoding":{"x":{"field":"t","type":"quantitative","axis":null},"y":{"field":"v","type":"quantitative","axis":null},"shape":{"field":"s","type":"nominal","scale":{"domain":["Im","Re"],"range":["triangle-up","circle"]},"legend":{"title":null,"orient":"none","legendX":384,"legendY":44,"columns":2,"columnPadding":56,"symbolSize":18,"labelOffset":-40,"labelAlign":"right","labelFontSize":16.5,"labelExpr":"datum.label=='Im'?'Im [ℬₐ]':'Re [ℬₐ]'"}},"color":{"field":"s","type":"nominal","scale":{"domain":["Im","Re"],"range":["#e11a22","#1d1d9c"]},"legend":{"title":null,"orient":"none","legendX":384,"legendY":44,"columns":2,"columnPadding":56,"symbolSize":18,"labelOffset":-40,"labelAlign":"right","labelFontSize":16.5,"labelExpr":"datum.label=='Im'?'Im [ℬₐ]':'Re [ℬₐ]'"}}}}
]},
{"width":569,"height":401,"resolve":{"axis":{"x":"independent","y":"independent"}},
"layer":[
{"data":{"name":"sPts"},"mark":{"type":"point","opacity":0},"encoding":{"x":{"field":"t","type":"quantitative","title":"Langevin Time","scale":{"domain":[-100,102000],"nice":false,"zero":false},"axis":{"orient":"bottom","format":"d","values":[0,4000,8000,12000,16000,20000,24000,28000,32000,36000,40000,44000,48000,52000,56000,60000,64000,68000,72000,76000,80000,84000,88000,92000,96000,100000],"labelExpr":"datum.value%20000===0?datum.label:''","tickSize":{"condition":{"test":"datum.value%20000===0","value":-8},"value":-4},"labelFontSize":16,"labelPadding":17,"titleFontSize":22,"titlePadding":8}},"y":{"field":"v","type":"quantitative","title":"𝒮ᴮₐ","scale":{"domain":[-5,25],"nice":false,"zero":false},"axis":{"orient":"left","format":"d","values":[-5,-4,-3,-2,-1,0,1,2,3,4,5,6,7,8,9,10,11,12,13,14,15,16,17,18,19,20,21,22,23,24,25],"labelExpr":"datum.value%5===0?datum.label:''","tickSize":{"condition":{"test":"datum.value%5===0","value":-8},"value":-4},"labelFontSize":16,"labelPadding":16,"titleFontSize":27,"titlePadding":0}}}},
{"data":{"name":"sPts"},"mark":{"type":"point","opacity":0},"encoding":{"x":{"field":"t","type":"quantitative","scale":{"domain":[-100,102000],"nice":false,"zero":false},"axis":{"orient":"top","title":null,"labels":false,"values":[0,4000,8000,12000,16000,20000,24000,28000,32000,36000,40000,44000,48000,52000,56000,60000,64000,68000,72000,76000,80000,84000,88000,92000,96000,100000],"tickSize":{"condition":{"test":"datum.value%20000===0","value":-8},"value":-4}}},"y":{"field":"v","type":"quantitative","scale":{"domain":[-5,25],"nice":false,"zero":false},"axis":{"orient":"right","title":null,"labels":false,"values":[-4,-3,-2,-1,0,1,2,3,4,5,6,7,8,9,10,11,12,13,14,15,16,17,18,19,20,21,22,23,24],"tickSize":{"condition":{"test":"datum.value%5===0","value":-8},"value":-4}}}}},
{"data":{"name":"sBand"},"mark":{"type":"rect","color":"#000080","cornerRadius":2},"encoding":{"x":{"field":"t","type":"quantitative","axis":null},"x2":{"field":"t2"},"y":{"field":"hi","type":"quantitative","axis":null},"y2":{"datum":0.22}}},
{"data":{"name":"sPts"},"mark":{"type":"point","size":18,"strokeWidth":1.2,"filled":false,"shape":"circle","color":"#000080","opacity":1},"encoding":{"x":{"field":"t","type":"quantitative","axis":null},"y":{"field":"v","type":"quantitative","axis":null}}},
{"data":{"values":[{"t":0,"t2":99800,"lo":-0.12,"hi":0.16}]},"mark":{"type":"rect","color":"#e11a22"},"encoding":{"x":{"field":"t","type":"quantitative","axis":null},"x2":{"field":"t2"},"y":{"field":"lo","type":"quantitative","axis":null},"y2":{"field":"hi"}}},
{"data":{"values":[{}]},"mark":{"type":"rect","fill":"white","stroke":"#444","strokeWidth":1.4},"encoding":{"x":{"datum":44500,"axis":null},"x2":{"datum":100340},"y":{"datum":24.55,"axis":null},"y2":{"datum":20.21}}},
{"data":{"values":[{}]},"mark":{"type":"rule","stroke":"#444","strokeWidth":1},"encoding":{"x":{"datum":44500,"axis":null},"x2":{"datum":100340},"y":{"datum":22.08,"axis":null}}},
{"data":{"values":[{}]},"mark":{"type":"text","fontSize":18.5,"align":"right"},"encoding":{"x":{"datum":63260,"axis":null},"y":{"datum":23.35,"axis":null},"text":{"value":"δ=4.0, g"}}},
{"data":{"values":[{}]},"mark":{"type":"text","fontSize":14,"align":"left","dy":5},"encoding":{"x":{"datum":63260,"axis":null},"y":{"datum":23.35,"axis":null},"text":{"value":"phys"}}},
{"data":{"values":[{}]},"mark":{"type":"text","fontSize":18.5,"align":"left"},"encoding":{"x":{"datum":68300,"axis":null},"y":{"datum":23.35,"axis":null},"text":{"value":"=0.5, T=8, α=0.0"}}},
{"data":{"values":[{"s":"Im","t":0,"v":0}]},"transform":[{"filter":"datum.t<0"}],"mark":{"type":"point","filled":false,"strokeWidth":1},"encoding":{"x":{"field":"t","type":"quantitative","axis":null},"y":{"field":"v","type":"quantitative","axis":null},"shape":{"field":"s","type":"nominal","scale":{"domain":["Im","Re"],"range":["triangle-up","circle"]},"legend":{"title":null,"orient":"none","legendX":352,"legendY":44,"columns":2,"columnPadding":59,"symbolSize":18,"labelOffset":-40,"labelAlign":"right","labelFontSize":16.5,"labelExpr":"datum.label=='Im'?'Im [𝒮ᴮₐ]':'Re [𝒮ᴮₐ]'"}},"color":{"field":"s","type":"nominal","scale":{"domain":["Im","Re"],"range":["#e11a22","#1d1d9c"]},"legend":{"title":null,"orient":"none","legendX":352,"legendY":44,"columns":2,"columnPadding":59,"symbolSize":18,"labelOffset":-40,"labelAlign":"right","labelFontSize":16.5,"labelExpr":"datum.label=='Im'?'Im [𝒮ᴮₐ]':'Re [𝒮ᴮₐ]'"}}}}
]}
]}
]},
{"bounds":"flush","spacing":84,"resolve":{"scale":{"color":"independent","shape":"independent","strokeDash":"independent"}},"hconcat":[
{"width":371,"height":254,"data":{"name":"wilson"},"resolve":{"axis":{"x":"independent","y":"independent"}},
"layer":[
{"mark":{"type":"point","opacity":0},"encoding":{"x":{"field":"t","type":"quantitative","title":"t","scale":{"domain":[-0.5,12],"nice":false,"zero":false},"axis":{"orient":"bottom","format":"d","values":[0,2,4,6,8,10,12],"tickSize":-6,"labelFontSize":13,"labelPadding":13,"titleFontSize":13,"titlePadding":8}},"y":{"field":"v","type":"quantitative","title":"[𝒲₁]ₜ","scale":{"domain":[-3,3],"nice":false,"zero":false},"axis":{"orient":"left","format":"d","values":[-3,-2,-1,0,1,2,3],"tickSize":-6,"labelFontSize":13,"labelPadding":13,"titleFontSize":15,"titlePadding":10}}}},
{"mark":{"type":"point","opacity":0},"encoding":{"x":{"field":"t","type":"quantitative","scale":{"domain":[-0.5,12],"nice":false,"zero":false},"axis":{"orient":"bottom","title":null,"labels":false,"values":[0,0.4,0.8,1.2,1.6,2,2.4,2.8,3.2,3.6,4,4.4,4.8,5.2,5.6,6,6.4,6.8,7.2,7.6,8,8.4,8.8,9.2,9.6,10,10.4,10.8,11.2,11.6],"tickSize":-3}},"y":{"field":"v","type":"quantitative","scale":{"domain":[-3,3],"nice":false,"zero":false},"axis":{"orient":"left","title":null,"labels":false,"values":[-2.8,-2.6,-2.4,-2.2,-2,-1.8,-1.6,-1.4,-1.2,-1,-0.8,-0.6,-0.4,-0.2,0,0.2,0.4,0.6,0.8,1,1.2,1.4,1.6,1.8,2,2.2,2.4,2.6,2.8],"tickSize":-3}}}},
{"mark":{"type":"point","opacity":0},"encoding":{"x":{"field":"t","type":"quantitative","scale":{"domain":[-0.5,12],"nice":false,"zero":false},"axis":{"orient":"top","title":null,"labels":false,"values":[0,2,4,6,8,10],"tickSize":-6}},"y":{"field":"v","type":"quantitative","scale":{"domain":[-3,3],"nice":false,"zero":false},"axis":{"orient":"right","title":null,"labels":false,"values":[-2,-1,0,1,2],"tickSize":-6}}}},
{"mark":{"type":"point","opacity":0},"encoding":{"x":{"field":"t","type":"quantitative","scale":{"domain":[-0.5,12],"nice":false,"zero":false},"axis":{"orient":"top","title":null,"labels":false,"values":[0,0.4,0.8,1.2,1.6,2,2.4,2.8,3.2,3.6,4,4.4,4.8,5.2,5.6,6,6.4,6.8,7.2,7.6,8,8.4,8.8,9.2,9.6,10,10.4,10.8,11.2,11.6],"tickSize":-3}},"y":{"field":"v","type":"quantitative","scale":{"domain":[-3,3],"nice":false,"zero":false},"axis":{"orient":"right","title":null,"labels":false,"values":[-2.8,-2.6,-2.4,-2.2,-2,-1.8,-1.6,-1.4,-1.2,-1,-0.8,-0.6,-0.4,-0.2,0,0.2,0.4,0.6,0.8,1,1.2,1.4,1.6,1.8,2,2.2,2.4,2.6,2.8],"tickSize":-3}}}},
{"encoding":{"x":{"field":"t","type":"quantitative","axis":null},"y":{"field":"v","type":"quantitative","axis":null},"color":{"field":"s","type":"nominal","scale":{"domain":["Re12","Im12","Re8","Im8","Re4","Im4"],"range":["#14148c","#a5123a","#8e3fa8","#e2572b","#0f8c2a","#fac832"]}},"strokeDash":{"field":"s","type":"nominal","legend":null,"scale":{"domain":["Re12","Re8","Re4","Im4","Im8","Im12"],"range":[[1,0],[1,0],[1,0],[3,2],[3,2],[3,2]]}}},"layer":[
{"transform":[{"filter":"datum.T==12"}],"mark":{"type":"line","strokeWidth":1.2}},
{"transform":[{"filter":"datum.T==12"}],"mark":{"type":"point","shape":"square","size":20,"strokeWidth":1.1,"opacity":1},"encoding":{"strokeDash":{"value":[1,0]}}},
{"transform":[{"filter":"datum.T==8"}],"mark":{"type":"line","strokeWidth":1.2}},
{"transform":[{"filter":"datum.T==8"}],"mark":{"type":"point","shape":"circle","size":22,"strokeWidth":1.1,"opacity":1},"encoding":{"strokeDash":{"value":[1,0]}}},
{"transform":[{"filter":"datum.T==4"}],"mark":{"type":"line","strokeWidth":1.2}},
{"transform":[{"filter":"datum.T==4"}],"mark":{"type":"point","shape":"triangle-up","size":14,"strokeWidth":2.2,"filled":false,"opacity":1},"encoding":{"strokeDash":{"value":[1,0]}}}
]},
{"data":{"values":[{}]},"mark":{"type":"rect","fill":"white","stroke":"#222","strokeWidth":1.3},"encoding":{"x":{"datum":0.17,"axis":null},"x2":{"datum":11.7},"y":{"datum":2.9,"axis":null},"y2":{"datum":1.59}}},
{"data":{"values":[{}]},"mark":{"type":"rule","stroke":"#222","strokeWidth":1},"encoding":{"x":{"datum":0.17,"axis":null},"x2":{"datum":11.7},"y":{"datum":2.325,"axis":null}}},
{"data":{"values":[{}]},"mark":{"type":"text","font":"Liberation Sans","fontSize":13.5,"align":"right"},"encoding":{"x":{"datum":5.23,"axis":null},"y":{"datum":2.63,"axis":null},"text":{"value":"δ=4.0, g"}}},
{"data":{"values":[{}]},"mark":{"type":"text","font":"Liberation Sans","fontSize":10,"align":"left","dy":4},"encoding":{"x":{"datum":5.23,"axis":null},"y":{"datum":2.63,"axis":null},"text":{"value":"phys"}}},
{"data":{"values":[{}]},"mark":{"type":"text","font":"Liberation Sans","fontSize":13.5,"align":"left"},"encoding":{"x":{"datum":6.0,"axis":null},"y":{"datum":2.63,"axis":null},"text":{"value":"=0.5, α=0.0"}}},
{"transform":[{"filter":"datum.t<0"}],"mark":{"type":"point","filled":false,"strokeWidth":1.1},"encoding":{"x":{"field":"t","type":"quantitative","axis":null},"y":{"field":"v","type":"quantitative","axis":null},"color":{"field":"s","type":"nominal","scale":{"domain":["Re12","Im12","Re8","Im8","Re4","Im4"],"range":["#14148c","#a5123a","#8e3fa8","#e2572b","#0f8c2a","#fac832"]},"legend":{"title":null,"orient":"none","legendX":103,"legendY":31,"columns":3,"columnPadding":22,"rowPadding":-3,"symbolSize":100,"symbolStrokeWidth":1.1,"labelOffset":-30,"labelAlign":"right","labelFontSize":12.5,"labelExpr":"{'Re12':'Re [𝒲₁]₁₂','Re8':'Re [𝒲₁]₈','Re4':'Re [𝒲₁]₄','Im12':'Im [𝒲₁]₁₂','Im8':'Im [𝒲₁]₈','Im4':'Im [𝒲₁]₄'}[datum.label]"}},"shape":{"field":"s","type":"nominal","scale":{"domain":["Re12","Im12","Re8","Im8","Re4","Im4"],"range":["M-3.4,0H-.61M.61,0H3.4M-3.4,-.51V.51M3.4,-.51V.51M-.51,-.51H.51V.51H-.51Z","M-3.4,0H-2.72M-2.11,0H-1.43M-1.02,0H-.61M.61,0H1.02M1.43,0H2.11M2.72,0H3.4M-3.4,-.51V.51M3.4,-.51V.51M-.51,-.51H.51V.51H-.51Z","M-3.4,0H-.61M.61,0H3.4M-3.4,-.51V.51M3.4,-.51V.51M.51,0A.51,.51 0 1 1 -.51,0A.51,.51 0 1 1 .51,0Z","M-3.4,0H-2.72M-2.11,0H-1.43M-1.02,0H-.61M.61,0H1.02M1.43,0H2.11M2.72,0H3.4M-3.4,-.51V.51M3.4,-.51V.51M.51,0A.51,.51 0 1 1 -.51,0A.51,.51 0 1 1 .51,0Z","M-3.4,0H-.61M.61,0H3.4M-3.4,-.51V.51M3.4,-.51V.51M0,-.58L.58,.41H-.58ZM0,-.27L.31,.27H-.31Z","M-3.4,0H-2.72M-2.11,0H-1.43M-1.02,0H-.61M.61,0H1.02M1.43,0H2.11M2.72,0H3.4M-3.4,-.51V.51M3.4,-.51V.51M0,-.58L.58,.41H-.58ZM0,-.27L.31,.27H-.31Z"]},"legend":{"title":null,"orient":"none","legendX":103,"legendY":31,"columns":3,"columnPadding":22,"rowPadding":-3,"symbolSize":100,"symbolStrokeWidth":1.1,"labelOffset":-30,"labelAlign":"right","labelFontSize":12.5,"labelExpr":"{'Re12':'Re [𝒲₁]₁₂','Re8':'Re [𝒲₁]₈','Re4':'Re [𝒲₁]₄','Im12':'Im [𝒲₁]₁₂','Im8':'Im [𝒲₁]₈','Im4':'Im [𝒲₁]₄'}[datum.label]"}}}}
]},
{"width":371,"height":254,"data":{"name":"corrRe"},"resolve":{"axis":{"x":"independent","y":"independent"}},
"layer":[
{"mark":{"type":"point","opacity":0},"encoding":{"x":{"field":"t","type":"quantitative","title":"t","scale":{"domain":[-0.5,12],"nice":false,"zero":false},"axis":{"orient":"bottom","format":"d","values":[0,2,4,6,8,10,12],"tickSize":-6,"labelFontSize":13,"labelPadding":13,"titleFontSize":13,"titlePadding":8}},"y":{"field":"v","type":"quantitative","title":"Re [ <ψ̄₀ψₜ>ₜ, <N₀ϕₜ>ₜ]","scale":{"domain":[-3,3],"nice":false,"zero":false},"axis":{"orient":"left","format":"d","values":[-3,-2,-1,0,1,2,3],"tickSize":-6,"labelFontSize":13,"labelPadding":13,"titleFontSize":16.5,"titlePadding":10}}}},
{"mark":{"type":"point","opacity":0},"encoding":{"x":{"field":"t","type":"quantitative","scale":{"domain":[-0.5,12],"nice":false,"zero":false},"axis":{"orient":"bottom","title":null,"labels":false,"values":[0,0.4,0.8,1.2,1.6,2,2.4,2.8,3.2,3.6,4,4.4,4.8,5.2,5.6,6,6.4,6.8,7.2,7.6,8,8.4,8.8,9.2,9.6,10,10.4,10.8,11.2,11.6],"tickSize":-3}},"y":{"field":"v","type":"quantitative","scale":{"domain":[-3,3],"nice":false,"zero":false},"axis":{"orient":"left","title":null,"labels":false,"values":[-2.8,-2.6,-2.4,-2.2,-2,-1.8,-1.6,-1.4,-1.2,-1,-0.8,-0.6,-0.4,-0.2,0,0.2,0.4,0.6,0.8,1,1.2,1.4,1.6,1.8,2,2.2,2.4,2.6,2.8],"tickSize":-3}}}},
{"mark":{"type":"point","opacity":0},"encoding":{"x":{"field":"t","type":"quantitative","scale":{"domain":[-0.5,12],"nice":false,"zero":false},"axis":{"orient":"top","title":null,"labels":false,"values":[0,2,4,6,8,10],"tickSize":-6}},"y":{"field":"v","type":"quantitative","scale":{"domain":[-3,3],"nice":false,"zero":false},"axis":{"orient":"right","title":null,"labels":false,"values":[-2,-1,0,1,2],"tickSize":-6}}}},
{"mark":{"type":"point","opacity":0},"encoding":{"x":{"field":"t","type":"quantitative","scale":{"domain":[-0.5,12],"nice":false,"zero":false},"axis":{"orient":"top","title":null,"labels":false,"values":[0,0.4,0.8,1.2,1.6,2,2.4,2.8,3.2,3.6,4,4.4,4.8,5.2,5.6,6,6.4,6.8,7.2,7.6,8,8.4,8.8,9.2,9.6,10,10.4,10.8,11.2,11.6],"tickSize":-3}},"y":{"field":"v","type":"quantitative","scale":{"domain":[-3,3],"nice":false,"zero":false},"axis":{"orient":"right","title":null,"labels":false,"values":[-2.8,-2.6,-2.4,-2.2,-2,-1.8,-1.6,-1.4,-1.2,-1,-0.8,-0.6,-0.4,-0.2,0,0.2,0.4,0.6,0.8,1,1.2,1.4,1.6,1.8,2,2.2,2.4,2.6,2.8],"tickSize":-3}}}},
{"encoding":{"x":{"field":"t","type":"quantitative","axis":null},"y":{"field":"v","type":"quantitative","axis":null},"color":{"field":"s","type":"nominal","scale":{"domain":["Re12","Im12","Re8","Im8","Re4","Im4"],"range":["#14148c","#a5123a","#8e3fa8","#e2572b","#0f8c2a","#fac832"]}},"strokeDash":{"field":"s","type":"nominal","legend":null,"scale":{"domain":["Re12","Re8","Re4","Im4","Im8","Im12"],"range":[[1,0],[1,0],[1,0],[3,2],[3,2],[3,2]]}}},"layer":[
{"transform":[{"filter":"datum.T==12"}],"mark":{"type":"line","strokeWidth":1.2}},
{"transform":[{"filter":"datum.T==12"}],"mark":{"type":"point","shape":"square","size":20,"strokeWidth":1.1,"opacity":1},"encoding":{"strokeDash":{"value":[1,0]}}},
{"transform":[{"filter":"datum.T==8"}],"mark":{"type":"line","strokeWidth":1.2}},
{"transform":[{"filter":"datum.T==8"}],"mark":{"type":"point","shape":"circle","size":22,"strokeWidth":1.1,"opacity":1},"encoding":{"strokeDash":{"value":[1,0]}}},
{"transform":[{"filter":"datum.T==4"}],"mark":{"type":"line","strokeWidth":1.2}},
{"transform":[{"filter":"datum.T==4"}],"mark":{"type":"point","shape":"triangle-up","size":14,"strokeWidth":2.2,"filled":false,"opacity":1},"encoding":{"strokeDash":{"value":[1,0]}}}
]},
{"data":{"values":[{}]},"mark":{"type":"rect","fill":"white","stroke":"#222","strokeWidth":1.3},"encoding":{"x":{"datum":-0.06,"axis":null},"x2":{"datum":11.73},"y":{"datum":2.92,"axis":null},"y2":{"datum":1.46}}},
{"data":{"values":[{}]},"mark":{"type":"rule","stroke":"#222","strokeWidth":1},"encoding":{"x":{"datum":-0.06,"axis":null},"x2":{"datum":11.73},"y":{"datum":2.27,"axis":null}}},
{"data":{"values":[{}]},"mark":{"type":"text","font":"Liberation Sans","fontSize":13.5,"align":"right"},"encoding":{"x":{"datum":5.1,"axis":null},"y":{"datum":2.6,"axis":null},"text":{"value":"δ=4.0, g"}}},
{"data":{"values":[{}]},"mark":{"type":"text","font":"Liberation Sans","fontSize":10,"align":"left","dy":4},"encoding":{"x":{"datum":5.1,"axis":null},"y":{"datum":2.6,"axis":null},"text":{"value":"phys"}}},
{"data":{"values":[{}]},"mark":{"type":"text","font":"Liberation Sans","fontSize":13.5,"align":"left"},"encoding":{"x":{"datum":5.87,"axis":null},"y":{"datum":2.6,"axis":null},"text":{"value":"=0.5, α=0.0"}}},
{"transform":[{"filter":"datum.t<0"}],"mark":{"type":"point","filled":false,"strokeWidth":1.1},"encoding":{"x":{"field":"t","type":"quantitative","axis":null},"y":{"field":"v","type":"quantitative","axis":null},"color":{"field":"s","type":"nominal","scale":{"domain":["Re12","Im12","Re8","Im8","Re4","Im4"],"range":["#14148c","#a5123a","#8e3fa8","#e2572b","#0f8c2a","#fac832"]},"legend":{"title":null,"orient":"none","legendX":97,"legendY":34,"columns":3,"columnPadding":25,"rowPadding":-2,"symbolSize":100,"symbolStrokeWidth":1.1,"labelOffset":-31,"labelAlign":"right","labelFontSize":13,"labelExpr":"{'Re12':'<N₀ϕₜ>₁₂','Re8':'<N₀ϕₜ>₈','Re4':'<N₀ϕₜ>₄','Im12':'<ψ̄₀ψₜ>₁₂','Im8':'<ψ̄₀ψₜ>₈','Im4':'<ψ̄₀ψₜ>₄'}[datum.label]"}},"shape":{"field":"s","type":"nominal","scale":{"domain":["Re12","Im12","Re8","Im8","Re4","Im4"],"range":["M-3.4,0H-.61M.61,0H3.4M-3.4,-.51V.51M3.4,-.51V.51M-.51,-.51H.51V.51H-.51Z","M-3.4,0H-2.72M-2.11,0H-1.43M-1.02,0H-.61M.61,0H1.02M1.43,0H2.11M2.72,0H3.4M-3.4,-.51V.51M3.4,-.51V.51M-.51,-.51H.51V.51H-.51Z","M-3.4,0H-.61M.61,0H3.4M-3.4,-.51V.51M3.4,-.51V.51M.51,0A.51,.51 0 1 1 -.51,0A.51,.51 0 1 1 .51,0Z","M-3.4,0H-2.72M-2.11,0H-1.43M-1.02,0H-.61M.61,0H1.02M1.43,0H2.11M2.72,0H3.4M-3.4,-.51V.51M3.4,-.51V.51M.51,0A.51,.51 0 1 1 -.51,0A.51,.51 0 1 1 .51,0Z","M-3.4,0H-.61M.61,0H3.4M-3.4,-.51V.51M3.4,-.51V.51M0,-.58L.58,.41H-.58ZM0,-.27L.31,.27H-.31Z","M-3.4,0H-2.72M-2.11,0H-1.43M-1.02,0H-.61M.61,0H1.02M1.43,0H2.11M2.72,0H3.4M-3.4,-.51V.51M3.4,-.51V.51M0,-.58L.58,.41H-.58ZM0,-.27L.31,.27H-.31Z"]},"legend":{"title":null,"orient":"none","legendX":97,"legendY":34,"columns":3,"columnPadding":25,"rowPadding":-2,"symbolSize":100,"symbolStrokeWidth":1.1,"labelOffset":-31,"labelAlign":"right","labelFontSize":13,"labelExpr":"{'Re12':'<N₀ϕₜ>₁₂','Re8':'<N₀ϕₜ>₈','Re4':'<N₀ϕₜ>₄','Im12':'<ψ̄₀ψₜ>₁₂','Im8':'<ψ̄₀ψₜ>₈','Im4':'<ψ̄₀ψₜ>₄'}[datum.label]"}}}}
]},
{"width":371,"height":254,"data":{"name":"corrIm"},"resolve":{"axis":{"x":"independent","y":"independent"}},
"layer":[
{"mark":{"type":"point","opacity":0},"encoding":{"x":{"field":"t","type":"quantitative","title":"t","scale":{"domain":[-0.5,12],"nice":false,"zero":false},"axis":{"orient":"bottom","format":"d","values":[0,2,4,6,8,10,12],"tickSize":-6,"labelFontSize":13,"labelPadding":13,"titleFontSize":13,"titlePadding":8}},"y":{"field":"v","type":"quantitative","title":"Im [ <ψ̄₀ψₜ>ₜ, <N₀ϕₜ>ₜ]","scale":{"domain":[-3,3],"nice":false,"zero":false},"axis":{"orient":"left","format":"d","values":[-3,-2,-1,0,1,2,3],"tickSize":-6,"labelFontSize":13,"labelPadding":13,"titleFontSize":16.5,"titlePadding":10}}}},
{"mark":{"type":"point","opacity":0},"encoding":{"x":{"field":"t","type":"quantitative","scale":{"domain":[-0.5,12],"nice":false,"zero":false},"axis":{"orient":"bottom","title":null,"labels":false,"values":[0,0.4,0.8,1.2,1.6,2,2.4,2.8,3.2,3.6,4,4.4,4.8,5.2,5.6,6,6.4,6.8,7.2,7.6,8,8.4,8.8,9.2,9.6,10,10.4,10.8,11.2,11.6],"tickSize":-3}},"y":{"field":"v","type":"quantitative","scale":{"domain":[-3,3],"nice":false,"zero":false},"axis":{"orient":"left","title":null,"labels":false,"values":[-2.8,-2.6,-2.4,-2.2,-2,-1.8,-1.6,-1.4,-1.2,-1,-0.8,-0.6,-0.4,-0.2,0,0.2,0.4,0.6,0.8,1,1.2,1.4,1.6,1.8,2,2.2,2.4,2.6,2.8],"tickSize":-3}}}},
{"mark":{"type":"point","opacity":0},"encoding":{"x":{"field":"t","type":"quantitative","scale":{"domain":[-0.5,12],"nice":false,"zero":false},"axis":{"orient":"top","title":null,"labels":false,"values":[0,2,4,6,8,10],"tickSize":-6}},"y":{"field":"v","type":"quantitative","scale":{"domain":[-3,3],"nice":false,"zero":false},"axis":{"orient":"right","title":null,"labels":false,"values":[-2,-1,0,1,2],"tickSize":-6}}}},
{"mark":{"type":"point","opacity":0},"encoding":{"x":{"field":"t","type":"quantitative","scale":{"domain":[-0.5,12],"nice":false,"zero":false},"axis":{"orient":"top","title":null,"labels":false,"values":[0,0.4,0.8,1.2,1.6,2,2.4,2.8,3.2,3.6,4,4.4,4.8,5.2,5.6,6,6.4,6.8,7.2,7.6,8,8.4,8.8,9.2,9.6,10,10.4,10.8,11.2,11.6],"tickSize":-3}},"y":{"field":"v","type":"quantitative","scale":{"domain":[-3,3],"nice":false,"zero":false},"axis":{"orient":"right","title":null,"labels":false,"values":[-2.8,-2.6,-2.4,-2.2,-2,-1.8,-1.6,-1.4,-1.2,-1,-0.8,-0.6,-0.4,-0.2,0,0.2,0.4,0.6,0.8,1,1.2,1.4,1.6,1.8,2,2.2,2.4,2.6,2.8],"tickSize":-3}}}},
{"encoding":{"x":{"field":"t","type":"quantitative","axis":null},"y":{"field":"v","type":"quantitative","axis":null},"color":{"field":"s","type":"nominal","scale":{"domain":["Re12","Im12","Re8","Im8","Re4","Im4"],"range":["#14148c","#a5123a","#8e3fa8","#e2572b","#0f8c2a","#fac832"]}},"strokeDash":{"field":"s","type":"nominal","legend":null,"scale":{"domain":["Re12","Re8","Re4","Im4","Im8","Im12"],"range":[[1,0],[1,0],[1,0],[3,2],[3,2],[3,2]]}}},"layer":[
{"transform":[{"filter":"datum.T==12"}],"mark":{"type":"line","strokeWidth":1.2}},
{"transform":[{"filter":"datum.T==12"}],"mark":{"type":"point","shape":"square","size":20,"strokeWidth":1.1,"opacity":1},"encoding":{"strokeDash":{"value":[1,0]}}},
{"transform":[{"filter":"datum.T==8"}],"mark":{"type":"line","strokeWidth":1.2}},
{"transform":[{"filter":"datum.T==8"}],"mark":{"type":"point","shape":"circle","size":22,"strokeWidth":1.1,"opacity":1},"encoding":{"strokeDash":{"value":[1,0]}}},
{"transform":[{"filter":"datum.T==4"}],"mark":{"type":"line","strokeWidth":1.2}},
{"transform":[{"filter":"datum.T==4"}],"mark":{"type":"point","shape":"triangle-up","size":14,"strokeWidth":2.2,"filled":false,"opacity":1},"encoding":{"strokeDash":{"value":[1,0]}}}
]},
{"data":{"values":[{}]},"mark":{"type":"rect","fill":"white","stroke":"#222","strokeWidth":1.3},"encoding":{"x":{"datum":-0.06,"axis":null},"x2":{"datum":11.73},"y":{"datum":2.92,"axis":null},"y2":{"datum":1.46}}},
{"data":{"values":[{}]},"mark":{"type":"rule","stroke":"#222","strokeWidth":1},"encoding":{"x":{"datum":-0.06,"axis":null},"x2":{"datum":11.73},"y":{"datum":2.27,"axis":null}}},
{"data":{"values":[{}]},"mark":{"type":"text","font":"Liberation Sans","fontSize":13.5,"align":"right"},"encoding":{"x":{"datum":5.1,"axis":null},"y":{"datum":2.6,"axis":null},"text":{"value":"δ=4.0, g"}}},
{"data":{"values":[{}]},"mark":{"type":"text","font":"Liberation Sans","fontSize":10,"align":"left","dy":4},"encoding":{"x":{"datum":5.1,"axis":null},"y":{"datum":2.6,"axis":null},"text":{"value":"phys"}}},
{"data":{"values":[{}]},"mark":{"type":"text","font":"Liberation Sans","fontSize":13.5,"align":"left"},"encoding":{"x":{"datum":5.87,"axis":null},"y":{"datum":2.6,"axis":null},"text":{"value":"=0.5, α=0.0"}}},
{"transform":[{"filter":"datum.t<0"}],"mark":{"type":"point","filled":false,"strokeWidth":1.1},"encoding":{"x":{"field":"t","type":"quantitative","axis":null},"y":{"field":"v","type":"quantitative","axis":null},"color":{"field":"s","type":"nominal","scale":{"domain":["Re12","Im12","Re8","Im8","Re4","Im4"],"range":["#14148c","#a5123a","#8e3fa8","#e2572b","#0f8c2a","#fac832"]},"legend":{"title":null,"orient":"none","legendX":97,"legendY":34,"columns":3,"columnPadding":25,"rowPadding":-2,"symbolSize":100,"symbolStrokeWidth":1.1,"labelOffset":-31,"labelAlign":"right","labelFontSize":13,"labelExpr":"{'Re12':'<N₀ϕₜ>₁₂','Re8':'<N₀ϕₜ>₈','Re4':'<N₀ϕₜ>₄','Im12':'<ψ̄₀ψₜ>₁₂','Im8':'<ψ̄₀ψₜ>₈','Im4':'<ψ̄₀ψₜ>₄'}[datum.label]"}},"shape":{"field":"s","type":"nominal","scale":{"domain":["Re12","Im12","Re8","Im8","Re4","Im4"],"range":["M-3.4,0H-.61M.61,0H3.4M-3.4,-.51V.51M3.4,-.51V.51M-.51,-.51H.51V.51H-.51Z","M-3.4,0H-2.72M-2.11,0H-1.43M-1.02,0H-.61M.61,0H1.02M1.43,0H2.11M2.72,0H3.4M-3.4,-.51V.51M3.4,-.51V.51M-.51,-.51H.51V.51H-.51Z","M-3.4,0H-.61M.61,0H3.4M-3.4,-.51V.51M3.4,-.51V.51M.51,0A.51,.51 0 1 1 -.51,0A.51,.51 0 1 1 .51,0Z","M-3.4,0H-2.72M-2.11,0H-1.43M-1.02,0H-.61M.61,0H1.02M1.43,0H2.11M2.72,0H3.4M-3.4,-.51V.51M3.4,-.51V.51M.51,0A.51,.51 0 1 1 -.51,0A.51,.51 0 1 1 .51,0Z","M-3.4,0H-.61M.61,0H3.4M-3.4,-.51V.51M3.4,-.51V.51M0,-.58L.58,.41H-.58ZM0,-.27L.31,.27H-.31Z","M-3.4,0H-2.72M-2.11,0H-1.43M-1.02,0H-.61M.61,0H1.02M1.43,0H2.11M2.72,0H3.4M-3.4,-.51V.51M3.4,-.51V.51M0,-.58L.58,.41H-.58ZM0,-.27L.31,.27H-.31Z"]},"legend":{"title":null,"orient":"none","legendX":97,"legendY":34,"columns":3,"columnPadding":25,"rowPadding":-2,"symbolSize":100,"symbolStrokeWidth":1.1,"labelOffset":-31,"labelAlign":"right","labelFontSize":13,"labelExpr":"{'Re12':'<N₀ϕₜ>₁₂','Re8':'<N₀ϕₜ>₈','Re4':'<N₀ϕₜ>₄','Im12':'<ψ̄₀ψₜ>₁₂','Im8':'<ψ̄₀ψₜ>₈','Im4':'<ψ̄₀ψₜ>₄'}[datum.label]"}}}}
]}
]}
]}
